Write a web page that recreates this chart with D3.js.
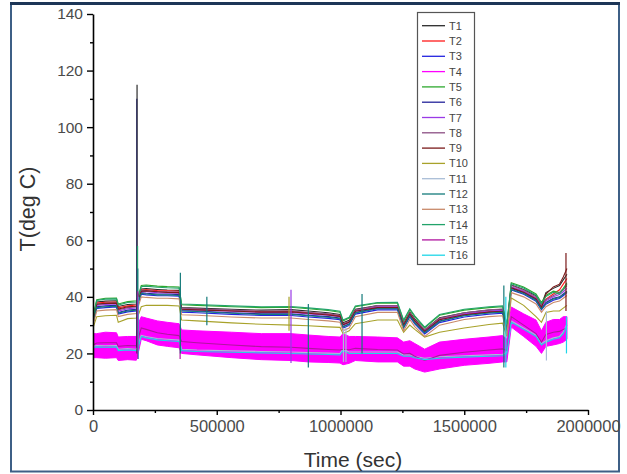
<!DOCTYPE html>
<html><head><meta charset="utf-8">
<script src="https://cdn.jsdelivr.net/npm/d3@7"></script>
<style>body{margin:0;background:#fff}svg{display:block}</style>
</head><body>
<script>
// Sample times (s) shared by all channels
const timeSec = [0,15000,50000,95000,102000,140000,175000,185000,195000,215000,260000,300000,348000,358000,420000,560000,680000,800000,870000,950000,998000,1010000,1035000,1060000,1150000,1230000,1255000,1280000,1300000,1340000,1400000,1500000,1600000,1655000,1672000,1690000,1740000,1790000,1812000,1830000,1860000,1885000,1900000,1915000];

// Thermocouple readings (deg C) at those times
const T1  = [32,38.2,38.5,38.6,36.6,37.3,37.5,40.2,42.8,42.9,42.6,42.4,42.3,36.2,36,35.6,35.3,35.5,35,34.4,33.8,30.8,31.7,35.6,36.9,36.9,30.7,34.6,32.2,28.3,32.6,34.4,35.3,35.6,29.2,44.2,42.6,40.4,37.2,41.5,43,44,46,48];
const T2  = [31.5,37.8,38.1,38.2,36.1,36.8,37.1,39.7,42.4,42.5,42.2,42.1,42,35.8,35.6,35.1,34.8,34.9,34.4,33.8,33.3,30.3,31.2,35.1,36.4,36.4,30.2,34.1,31.7,27.9,32.1,33.9,34.8,35.1,28.7,43.4,42,39.5,36.5,39.2,41,42.5,44.5,46.5];
const T3  = [30.5,35.9,36.2,36.4,33.9,34.7,35,38.4,40.9,40.7,40.4,40.4,40.2,34.6,34.4,33.8,33.4,33.4,32.9,32.4,31.9,28.9,29.9,33.9,35.4,35.4,28.9,32.9,30.4,26.9,30.9,32.9,33.9,34.2,27.4,42.4,40.9,38.4,35.4,37.4,38.8,39.4,40.4,41.5];
const T4Low  = [18.5,18.5,18.3,18.5,17.5,17.8,17.6,21,25,24.5,23,22.5,22,20,19.5,18.5,17.8,17.5,17,16.8,16.6,16,16.5,17.5,17,17,15.5,15.5,14.5,13.4,14.5,15.8,16.5,17,17,29.3,26,22.5,20,22.5,23,23.5,24,25];
const T4High = [27,27,27.5,27.3,25.8,26,26,31,33,32.5,31.5,31,30.5,28.3,28,27.5,27,27,26.5,26,25.8,27,26,26,25.8,25.5,24,24.5,23.5,21.5,24,25,25.8,26.3,25,36.4,34,31.8,28,31,32,32,33,33];
const T5  = [33,39,39.5,39.6,37.5,38.3,38.6,41,44,44.2,43.8,43.6,43.5,37.2,37,36.5,36.2,36.3,35.8,35.2,34.6,31.5,32.5,36.5,37.8,37.8,31.5,35.5,33,29,33.5,35.3,36.2,36.5,30,45,43.5,41,38,40.5,42,41.5,43,45];
const T6  = [31,36.5,36.8,37,34.5,35.3,35.6,39,41.5,41.3,41,41,40.8,35.2,35,34.4,34,34,33.5,33,32.5,29.5,30.5,34.5,36,36,29.5,33.5,31,27.5,31.5,33.5,34.5,34.8,28,43,41.5,39,36,38,39.5,40,41,42];
const T7  = [31.4,37,37.3,37.5,35,35.8,36.1,39.4,41.9,41.8,41.5,41.4,41.3,35.6,35.4,34.9,34.5,34.5,34,33.5,33,30,31,35,36.5,36.5,30,34,31.5,28,32,34,35,35.3,28.5,43.5,42,39.5,36.5,38.6,40,40.8,41.8,43];
const T8  = [31.8,37.4,37.7,37.9,35.4,36.2,36.5,39.8,42.3,42.2,41.9,41.8,41.7,36,35.8,35.3,34.9,35,34.5,34,33.4,30.4,31.4,35.4,36.9,36.9,30.4,34.4,31.9,28.4,32.4,34.4,35.4,35.7,28.9,44,42.4,40,37,39,40.5,41.5,42.5,44];
const T9  = [31.3,37.4,37.7,37.8,35.7,36.5,36.7,39.5,42,42.1,41.8,41.6,41.5,35.6,35.4,35,34.6,34.7,34.2,33.6,33.1,30.1,31,34.9,36.2,36.2,30,33.9,31.5,27.8,31.9,33.7,34.6,34.9,28.5,43.2,41.6,39.3,36.2,41,43.5,44.5,47,50];
const T10 = [29,33,33.3,33.5,31,32.3,32.5,34,36.5,37,37,37,36.8,31.8,31.5,30.8,30.3,30,29.8,29.4,29.2,27,28,30.5,31.8,31.8,27.5,30,28.5,25.8,27.5,29,30.2,30.7,26,39.6,37,33,31,34.5,35,35,36,37];
const T11 = [22.5,22.8,22.7,22.8,21.5,21.7,21.5,23.5,26.4,26,25.3,25,24.7,21.5,21.2,20.9,20.7,20.5,20.3,20.1,20,21.5,20.5,20.5,20.5,20.5,19.5,19.5,19,18.3,18.8,19.2,19.5,19.7,20.5,31.5,29,26.5,23.5,24.5,25.5,26,27.5,30.5];
const T12 = [30.8,36.2,36.5,36.7,34.3,35,35.3,38.5,41.2,41,40.7,40.7,40.5,35,34.8,34.2,33.8,33.8,33.3,32.8,32.3,29.3,30.3,34.3,35.8,35.8,29.3,33.3,30.8,27.3,31.3,33.3,34.3,34.6,27.8,42.6,41.2,38.7,35.7,37.8,39.2,39.8,40.8,41.8];
const T13 = [30,35,35.3,35.5,33,33.8,34.1,37.2,40,39.8,39.5,39.5,39.3,33.7,33.5,32.9,32.5,32.5,32,31.5,31,28,29,33,34.5,34.5,28,32,29.5,26,30,32,33,33.3,26.5,41.5,40,37.5,34.5,36.5,38,38.5,39.5,40.5];
const T14 = [32.6,38.7,39.2,39.3,37.1,38,38.2,40.5,43.6,43.8,43.4,43.2,43.1,37.5,37.3,36.8,36.5,36.6,36.1,35.5,34.9,31.8,32.8,36.8,38,38.1,31.8,35.8,33.3,29.3,33.8,35.6,36.5,36.8,30.3,44.6,43.1,40.6,37.6,40.1,41.6,41,42.6,44.5];
const T15 = [23,23.7,23.8,23.8,22.5,22.8,22.7,26,29,28.5,27.3,26.8,26.3,24.2,23.8,23,22.4,22.2,21.8,21.4,21.2,21.5,21.3,21.8,21.4,21.2,19.8,20,19,17.5,19.3,20.4,21.2,21.6,21,33,30,27,24,26.7,27.5,27.8,28.5,29];
const T16 = [22,22.3,22.2,22.3,21,21.2,21,23,26,25.5,24.8,24.5,24.2,21,20.7,20.4,20.2,20,19.8,19.6,19.5,21,20,20,20,20,19,19,18.5,17.8,18.3,18.7,19,19.2,20,31,28.5,26,23,24,25,25.5,27,30];

// Short transients: channel, time (s), lowest and highest reading (deg C)
const spikeSeries = ["T6","T1","T14","T12","T16","T15","T15","T12","T12","T7","T10","T12","T11","T11","T12","T12","T16","T11","T9","T16"];
const spikeTime   = [177000,178000,180000,181000,183000,181000,352000,353000,460000,800000,792000,870000,1012000,1022000,1087000,1660000,1668000,1832000,1911000,1913000];
const spikeLow    = [22,20,24,20,18,18,18,20,30,16.6,28,15,17,17,20,15,15,17.5,35,20];
const spikeHigh   = [110,115,58,50,40,42,30,48.5,40,42.5,40,37.5,29,29,41,44,40,35,55.5,33];

const seriesNames  = ["T1","T2","T3","T4","T5","T6","T7","T8","T9","T10","T11","T12","T13","T14","T15","T16"];
const seriesColors = ["#2b2b2b","#ff1a1a","#2323e0","#ff00ff","#2ea82e","#23239a","#9a3ae6","#8c4f84","#7a1a1a","#a8a22a","#a9bdd6","#137a7a","#c98a6a","#22a36a","#b0159f","#1ed6e8"];
const seriesData = {T1,T2,T3,T5,T6,T7,T8,T9,T10,T11,T12,T13,T14,T15,T16};

const xTicks = [0,500000,1000000,1500000,2000000];
const xMinor = [250000,750000,1250000,1750000];
const yTicks = [0,20,40,60,80,100,120,140];
const yMinor = [10,30,50,70,90,110,130];

const W = 627, H = 474;
const svg = d3.select("body").append("svg").attr("width", W).attr("height", H);

// outer frame
svg.append("rect").attr("x",11).attr("y",3.5).attr("width",608).attr("height",468)
  .attr("fill","#fff").attr("stroke","#3d5f86").attr("stroke-width",2);
svg.append("line").attr("x1",10).attr("x2",620).attr("y1",3.5).attr("y2",3.5)
  .attr("stroke","#1c3557").attr("stroke-width",3);

const x = d3.scaleLinear().domain([0,2000000]).range([93,588]);
const y = d3.scaleLinear().domain([0,140]).range([410,14]);

svg.append("clipPath").attr("id","plot").append("rect")
  .attr("x",93).attr("y",14).attr("width",495).attr("height",396);
const g = svg.append("g").attr("clip-path","url(#plot)");

const colorOf = n => seriesColors[seriesNames.indexOf(n)];
const line = d3.line().x((d,i)=>x(timeSec[i])).y(d=>y(d));
const area = d3.area().x((d,i)=>x(timeSec[i])).y0((d,i)=>y(T4Low[i])).y1(d=>y(d));

seriesNames.forEach(name => {
  if (name === "T4") {
    g.append("path").datum(T4High).attr("d", area)
      .attr("fill", colorOf("T4")).attr("stroke", colorOf("T4")).attr("stroke-width", 1);
  } else {
    g.append("path").datum(seriesData[name]).attr("d", line)
      .attr("fill","none").attr("stroke", colorOf(name)).attr("stroke-width", 1.1);
  }
});

// transients
spikeSeries.forEach((name,i) => {
  g.append("line")
    .attr("x1", x(spikeTime[i])).attr("x2", x(spikeTime[i]))
    .attr("y1", y(spikeLow[i])).attr("y2", y(spikeHigh[i]))
    .attr("stroke", colorOf(name)).attr("stroke-width", 1.2);
});

// axes
const tickFont = "Liberation Sans, Arial, sans-serif";
const xAxis = svg.append("g").attr("transform","translate(0,410)")
  .call(d3.axisBottom(x).tickValues(xTicks).tickSize(5).tickSizeOuter(0).tickPadding(5).tickFormat(d3.format("d")));
svg.append("g").attr("transform","translate(0,410)")
  .call(d3.axisBottom(x).tickValues(xMinor).tickSize(3).tickSizeOuter(0).tickFormat(""))
  .select(".domain").remove();
const yAxis = svg.append("g").attr("transform","translate(93,0)")
  .call(d3.axisLeft(y).tickValues(yTicks).tickSize(6).tickSizeOuter(0).tickPadding(4));
svg.append("g").attr("transform","translate(93,0)")
  .call(d3.axisLeft(y).tickValues(yMinor).tickSize(3).tickSizeOuter(0).tickFormat(""))
  .select(".domain").remove();

svg.selectAll(".domain").attr("stroke","#000").attr("stroke-width",1.6);
svg.selectAll(".tick line").attr("stroke","#000").attr("stroke-width",1.4);
xAxis.selectAll("text").attr("font-family",tickFont).attr("font-size",16.5).attr("fill","#4a4a4a");
yAxis.selectAll("text").attr("font-family",tickFont).attr("font-size",15.5).attr("fill","#4a4a4a");

// axis titles
svg.append("text").attr("x",353).attr("y",467).attr("text-anchor","middle")
  .attr("font-family",tickFont).attr("font-size",21).attr("fill","#333").text("Time (sec)");
svg.append("text").attr("transform","translate(35,209) rotate(-90)").attr("text-anchor","middle")
  .attr("font-family",tickFont).attr("font-size",21.5).attr("fill","#333").text("T(deg C)");

// legend
const lg = svg.append("g");
lg.append("rect").attr("x",417.5).attr("y",12.5).attr("width",57).attr("height",252)
  .attr("fill","#fff").attr("stroke","#555").attr("stroke-width",1.2);
seriesNames.forEach((name,i) => {
  const ly = 25.7 + i*15.3;
  lg.append("line").attr("x1",422).attr("x2",445).attr("y1",ly).attr("y2",ly)
    .attr("stroke", colorOf(name)).attr("stroke-width",1.3);
  lg.append("text").attr("x",449).attr("y",ly+4).attr("font-family",tickFont)
    .attr("font-size",11).attr("fill","#444").text(name);
});
</script>
</body></html>
